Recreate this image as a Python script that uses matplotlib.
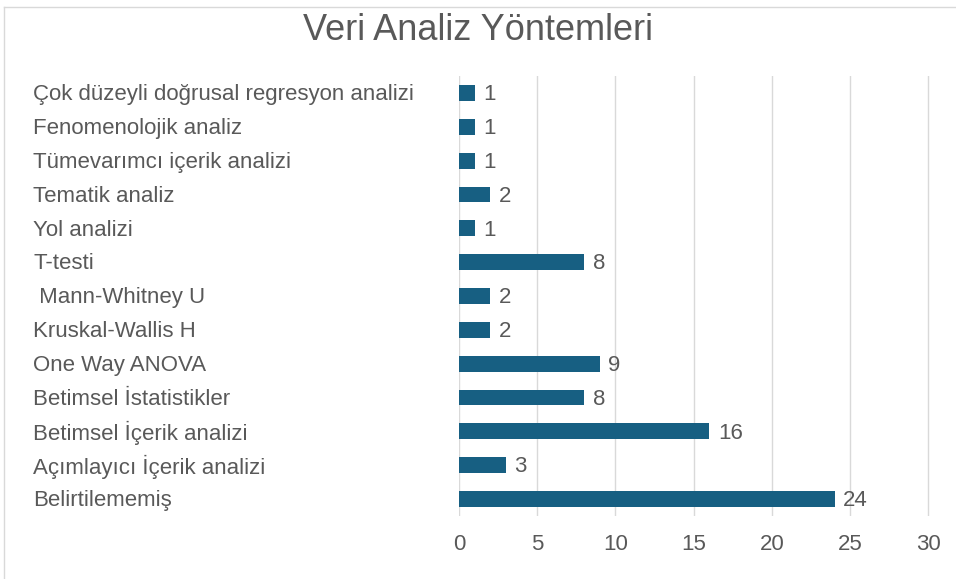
import matplotlib.pyplot as plt
from matplotlib.transforms import blended_transform_factory
from matplotlib.lines import Line2D

plt.rcParams['font.family'] = ['Liberation Sans', 'DejaVu Sans']

categories = ['Çok düzeyli doğrusal regresyon analizi', 'Fenomenolojik analiz',
              'Tümevarımcı içerik analizi', 'Tematik analiz', 'Yol analizi', 'T-testi',
              ' Mann-Whitney U', 'Kruskal-Wallis H', 'One Way ANOVA',
              'Betimsel İstatistikler', 'Betimsel İçerik analizi',
              'Açımlayıcı İçerik analizi', 'Belirtilememiş']
counts = [1, 1, 1, 2, 1, 8, 2, 2, 9, 8, 16, 3, 24]
xticks = [0, 5, 10, 15, 20, 25, 30]

text_col = '#595959'
bar_col = '#175f82'

fig = plt.figure(figsize=(9.56, 5.79), dpi=100)
ax = fig.add_axes([459 / 956, 1 - 516 / 579, (930 - 459) / 956, (516 - 76) / 579])

ypos = list(range(len(categories)))
ax.barh(ypos, counts, height=0.47, color=bar_col, zorder=3)
ax.set_ylim(len(categories) - 0.5, -0.5)
ax.set_xlim(0, 30.1)
ax.set_xticks(xticks)
ax.set_xticklabels([str(t) for t in xticks], fontsize=16, color=text_col)
ax.tick_params(axis='x', length=0, pad=13)
ax.set_yticks([])
ax.grid(axis='x', color='#d9d9d9', linewidth=1, zorder=0)
for s in ax.spines.values():
    s.set_visible(False)

# value labels
for y, v in zip(ypos, counts):
    ax.text(v + 0.55, y + 0.05, str(v), va='center', ha='left', fontsize=16, color=text_col)

# category labels, left aligned
trans = blended_transform_factory(fig.transFigure, ax.transData)
for y, c in zip(ypos, categories):
    ax.text(33 / 956, y + 0.05, c, transform=trans, va='center', ha='left', fontsize=16,
            color=text_col, clip_on=False)

fig.text(0.5, 1 - 31 / 579, 'Veri Analiz Yöntemleri', ha='center', va='center',
         fontsize=26, color=text_col)

# chart border
fig.add_artist(Line2D([4 / 956, 1], [1 - 7 / 579, 1 - 7 / 579], transform=fig.transFigure,
                      color='#d9d9d9', linewidth=1))
fig.add_artist(Line2D([4 / 956, 4 / 956], [0, 1 - 7 / 579], transform=fig.transFigure,
                      color='#d9d9d9', linewidth=1))

fig.savefig('out.png', dpi=100)
